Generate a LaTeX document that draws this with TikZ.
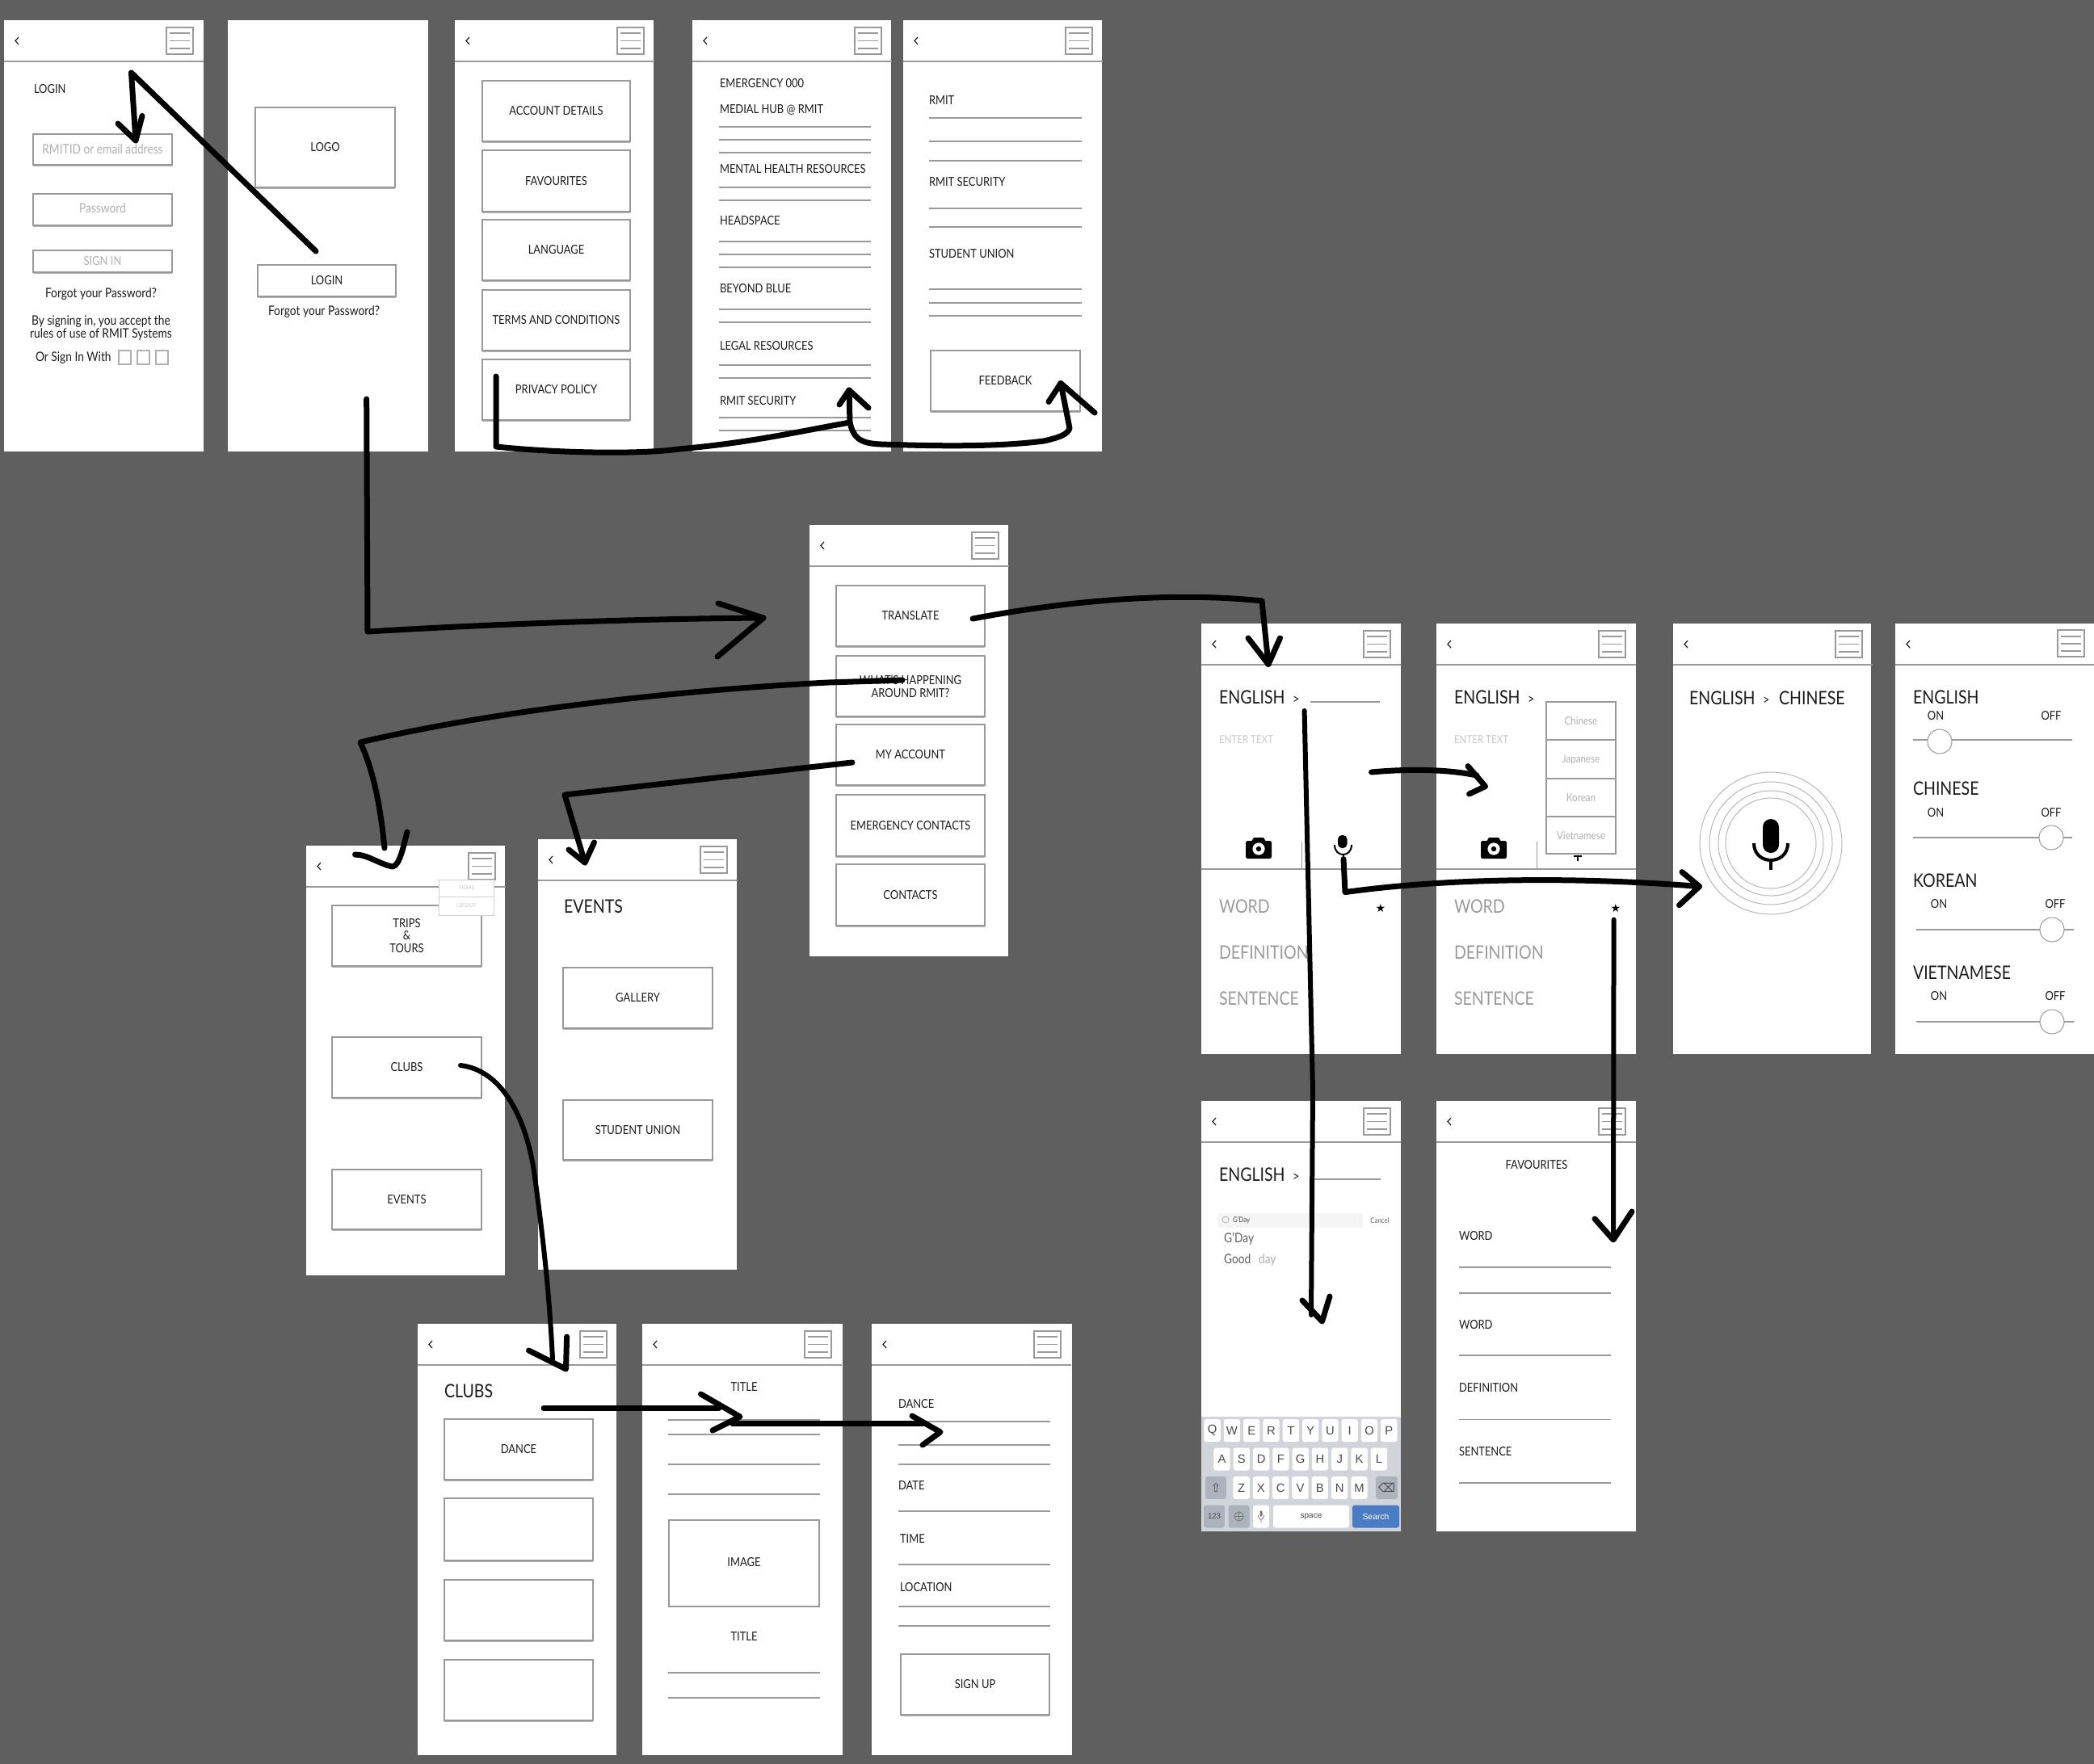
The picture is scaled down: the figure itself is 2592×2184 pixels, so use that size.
\documentclass[tikz,border=0pt]{standalone}
\usepackage{fontspec}
\setmainfont[FakeStretch=0.85]{Lato}
\newfontfamily\kbfont{Liberation Sans}
\newfontfamily\symfont{DejaVu Sans}
\usetikzlibrary{shadows}
\definecolor{bgc}{HTML}{5F5F5F}
\definecolor{ink}{HTML}{1C1C1C}
\definecolor{edge}{HTML}{999999}
\definecolor{lite}{HTML}{B0B0B0}
\definecolor{midg}{HTML}{9A9A9A}
\definecolor{kbbg}{HTML}{D1D5DB}
\definecolor{kbdk}{HTML}{ACB3BC}
\definecolor{kbblue}{HTML}{4A7CC4}
\newcommand{\fa}{\fontsize{7.6}{7.9}\selectfont}
\newcommand{\fb}{\fontsize{11.5}{12}\selectfont}
\newcommand{\fc}{\fontsize{8.1}{7.7}\selectfont}
\newcommand{\fs}{\fontsize{6.8}{7.4}\selectfont}
\newcommand{\gt}{{\fontsize{8.5}{9}\selectfont >}}
\newcounter{tc}
\tikzset{
  scrbox/.style={fill=white,draw=none,inner sep=0,outer sep=0},
  btnbox/.style={fill=white,draw=edge,line width=0.6pt,inner sep=0,outer sep=0,font=\fa,text=ink,align=center,
     drop shadow={shadow xshift=0pt,shadow yshift=-0.9pt,opacity=.3,fill=black}},
  txt/.style={inner sep=0,outer sep=0,font=\fa,text=ink,align=center},
  rule/.style={draw=edge,line width=0.6pt},
  arw/.style={draw=black,line width=3.5pt,line cap=round,line join=round},
  keyb/.style={fill=white,draw=none,rounded corners=1.4pt,inner sep=0,font={\kbfont\fontsize{7.4}{8}\selectfont},text=ink!80},
}
\newcommand{\scrn}[5]{\node[scrbox,minimum width={(#4-#2)*0.5pt},minimum height={(#5-#3)*0.5pt}] (#1) at ({(#2+#4)/2},{(#3+#5)/2}) {};}
\newcommand{\hdr}[2]{%
  \draw[rule,line width=0.8pt] (#1,{#2+51}) -- ({#1+247},{#2+51});
  \draw[ink,line width=0.6pt] ({#1+18},{#2+21}) -- ({#1+14},{#2+25.5}) -- ({#1+18},{#2+30});
  \draw[draw=edge,line width=0.7pt,fill=white] ({#1+201},{#2+9}) rectangle ({#1+234},{#2+42});
  \draw[edge,line width=0.7pt] ({#1+205},{#2+16}) -- ({#1+230},{#2+16}) ({#1+205},{#2+25.5}) -- ({#1+230},{#2+25.5}) ({#1+205},{#2+35}) -- ({#1+230},{#2+35});}
\newcommand{\btn}[6]{\node[btnbox,minimum width={(#4-#2)*0.5pt},minimum height={(#5-#3)*0.5pt}] (#1) at ({(#2+#4)/2},{(#3+#5)/2}) {#6};}
\newcommand{\lb}[4][]{\stepcounter{tc}\node[txt,anchor=west,#1] (t\arabic{tc}) at (#2,#3) {#4};}
\newcommand{\cl}[4][]{\stepcounter{tc}\node[txt,#1] (t\arabic{tc}) at (#2,#3) {#4};}
\newcommand{\hl}[3]{\draw[rule] (#1,#3) -- (#2,#3);}
\newcommand{\kk}[4]{\stepcounter{tc}\node[keyb,minimum width={#3*0.5pt},minimum height={#4*0.5pt}] (t\arabic{tc}) at (#1,#2)}
\begin{document}
\begin{tikzpicture}[x=0.5pt,y=-0.5pt]
\useasboundingbox (0,0) rectangle (2592,2184);
\fill[bgc] (0,0) rectangle (2592,2184);

%% ---------- top row
\scrn{s1}{5}{25}{252}{559}\hdr{5}{25}
\lb{42}{110}{LOGIN}
\btn{i1}{41}{166}{213}{204}{\color{lite}\fc RMITID or email address}
\btn{i2}{41}{240}{213}{279}{\raisebox{1.6pt}{\color{lite}\fc Password}}
\btn{i3}{41}{310}{213}{337}{\color{lite}SIGN IN}
\cl[font=\fc]{125}{364}{Forgot your Password?}
\cl[font=\fc]{125}{406}{By signing in, you accept the\\rules of use of RMIT Systems}
\lb[font=\fc]{44}{443}{Or Sign In With}
\foreach \q in {147,170,193}{\draw[draw=lite,line width=0.6pt] (\q,434) rectangle ({\q+15},451);}

\scrn{s2}{282}{25}{530}{559}
\btn{logo}{316}{133}{489}{232}{LOGO}
\btn{loginb}{319}{328}{490}{367}{LOGIN}
\cl[font=\fc]{401}{386}{Forgot your Password?}

\scrn{s3}{563}{25}{809}{559}\hdr{563}{25}
\btn{acc}{597}{100}{780}{175}{ACCOUNT DETAILS}
\btn{fav}{597}{186}{780}{262}{FAVOURITES}
\btn{lang}{597}{272}{780}{347}{LANGUAGE}
\btn{terms}{597}{359}{780}{434}{TERMS AND CONDITIONS}
\btn{priv}{597}{445}{780}{520}{PRIVACY POLICY}

\scrn{s4}{857}{25}{1103}{559}\hdr{857}{25}
\lb{891}{103}{EMERGENCY 000}
\lb{891}{136}{MEDIAL HUB @ RMIT}
\hl{890}{1078}{157}\hl{890}{1078}{173}\hl{890}{1078}{189}
\lb{891}{209}{MENTAL HEALTH RESOURCES}
\hl{890}{1078}{232}\hl{890}{1078}{248}
\lb{891}{273}{HEADSPACE}
\hl{890}{1078}{299}\hl{890}{1078}{315}\hl{890}{1078}{331}
\lb{891}{357}{BEYOND BLUE}
\hl{890}{1078}{383}\hl{890}{1078}{399}
\lb{891}{428}{LEGAL RESOURCES}
\hl{890}{1078}{452}\hl{890}{1078}{468}
\lb{891}{496}{RMIT SECURITY}
\hl{890}{1078}{517}\hl{890}{1078}{533}

\scrn{s5}{1118}{25}{1364}{559}\hdr{1118}{25}
\lb{1150}{124}{RMIT}
\hl{1150}{1339}{146}\hl{1150}{1339}{175}\hl{1150}{1339}{199}
\lb{1150}{225}{RMIT SECURITY}
\hl{1150}{1339}{258}\hl{1150}{1339}{281}
\lb{1150}{314}{STUDENT UNION}
\hl{1150}{1339}{358}\hl{1150}{1339}{375}\hl{1150}{1339}{391}
\btn{feedb}{1152}{434}{1337}{509}{FEEDBACK}

%% ---------- centre menu
\scrn{s6}{1002}{650}{1248}{1184}\hdr{1002}{650}
\btn{trans}{1035}{725}{1219}{800}{TRANSLATE}
\btn{whats}{1035}{812}{1219}{887}{WHAT'S HAPPENING\\AROUND RMIT?}
\btn{myacc}{1035}{897}{1219}{972}{MY ACCOUNT}
\btn{emerg}{1035}{984}{1219}{1060}{EMERGENCY CONTACTS}
\btn{conta}{1035}{1070}{1219}{1146}{CONTACTS}

%% ---------- trips / events
\scrn{s7}{379}{1047}{625}{1579}\hdr{379}{1047}
\btn{trips}{411}{1121}{596}{1196}{TRIPS\\\&\\TOURS}
\btn{clubs}{411}{1284}{596}{1359}{CLUBS}
\btn{evts}{411}{1448}{596}{1522}{EVENTS}
\draw[draw=lite!60,line width=0.5pt,fill=white] (543,1089) rectangle (611.5,1133);
\draw[lite!60,line width=0.5pt] (543,1110) -- (611.5,1110);
\cl[text=lite!70,font=\fontsize{3.4}{4}\selectfont]{578}{1099.5}{HOME}
\cl[text=lite!70,font=\fontsize{3.4}{4}\selectfont]{577}{1121.5}{LOGOUT}

\scrn{s8}{666}{1039}{912}{1572}\hdr{666}{1039}
\lb[font=\fb]{698}{1122}{EVENTS}
\btn{gall}{697}{1198}{882}{1273}{GALLERY}
\btn{stud}{697}{1362}{882}{1436}{STUDENT UNION}

%% ---------- clubs row
\scrn{s9}{517}{1639}{763}{2173}\hdr{517}{1639}
\lb[font=\fb]{550}{1722}{CLUBS}
\btn{dance}{550}{1757}{734}{1832}{DANCE}
\btn{c2}{550}{1855}{734}{1932}{}
\btn{c3}{550}{1956}{734}{2031}{}
\btn{c4}{550}{2055}{734}{2130}{}

\scrn{s10}{795}{1639}{1043}{2173}\hdr{795}{1639}
\cl{921}{1717}{TITLE}
\hl{827}{1015}{1758}\hl{827}{1015}{1776}\hl{827}{1015}{1813}\hl{827}{1015}{1850}
\node[scrbox,draw=edge,line width=0.6pt,minimum width=93pt,minimum height=53.5pt,font=\fa,text=ink] (img) at (921,1935.5) {\raisebox{2pt}{IMAGE}};
\cl{921}{2026}{TITLE}
\hl{827}{1015}{2071}\hl{827}{1015}{2102}

\scrn{s11}{1079}{1639}{1327}{2173}\hdr{1079}{1639}
\lb{1112}{1738}{DANCE}
\hl{1112}{1300}{1760}\hl{1112}{1300}{1789}\hl{1112}{1300}{1813}
\lb{1112}{1839}{DATE}
\hl{1112}{1300}{1871}
\lb{1114}{1905}{TIME}
\hl{1112}{1300}{1937}
\lb{1114}{1965}{LOCATION}
\hl{1112}{1300}{1989}\hl{1112}{1300}{2013}
\btn{signup}{1115}{2048}{1299}{2123}{SIGN UP}

%% ---------- translate row
\scrn{s12}{1487}{772}{1734}{1305}\hdr{1487}{772}
\scrn{s13}{1778}{772}{2025}{1305}\hdr{1778}{772}
\scrn{s14}{2071}{772}{2316}{1305}\hdr{2071}{772}
\scrn{s15}{2346}{772}{2592}{1305}
\draw[rule,line width=0.8pt] (2346,823) -- (2592,823);
\draw[ink,line width=0.6pt] (2364,793) -- (2360,797.5) -- (2364,802);
\draw[draw=edge,line width=0.7pt,fill=white] (2547,780) rectangle (2580,813);
\draw[edge,line width=0.7pt] (2551,788) -- (2576,788) (2551,797) -- (2576,797) (2551,806) -- (2576,806);

\foreach \dx in {0,291}{
  \lb[font=\fb]{1509+\dx}{863}{ENGLISH\hspace{0.42em}\gt}
  \lb[text=lite!70,font=\fs]{1509+\dx}{916}{ENTER TEXT}
  \lb[font=\fb,text=midg]{1509+\dx}{1122}{WORD}
  \lb[font=\fb,text=midg]{1509+\dx}{1179}{DEFINITION}
  \lb[font=\fb,text=midg]{1509+\dx}{1236}{SENTENCE}
  \cl[font={\symfont\fontsize{7}{8}\selectfont},text=black]{1709+\dx}{1124}{★}
  % camera
  \fill[black,rounded corners=1.2pt] ({1542+\dx},1041) rectangle ({1574+\dx},1063);
  \fill[black] ({1549+\dx},1042) -- ({1552+\dx},1037) -- ({1564+\dx},1037) -- ({1567+\dx},1042) -- cycle;
  \fill[white] ({1558+\dx},1051) circle[radius=3.8pt];
  \fill[black] ({1558+\dx},1051) circle[radius=1.6pt];
  \draw[edge,line width=0.5pt] ({1611+\dx},1042) -- ({1611+\dx},1076);
  \draw[edge,line width=0.6pt] ({1487+\dx},1076) -- ({1734+\dx},1076);
}
\hl{1622}{1708}{869}
% small microphone
\fill[black,rounded corners=2.5pt] (1656,1034) rectangle (1667.5,1050);
\draw[black,line width=1pt] (1652,1046) .. controls (1652,1062) and (1673,1062) .. (1673,1046);
\draw[black,line width=1pt] (1662.5,1057) -- (1662.5,1066);
% dropdown
\draw[draw=edge,line width=0.6pt,fill=white] (1914,869) rectangle (2000,1057);
\draw[edge,line width=0.6pt] (1914,916) -- (2000,916) (1914,964) -- (2000,964) (1914,1011) -- (2000,1011);
\cl[text=lite,font=\fs]{1957}{893}{Chinese}
\cl[text=lite,font=\fs]{1957}{941}{Japanese}
\cl[text=lite,font=\fs]{1957}{988}{Korean}
\cl[text=lite,font=\fs]{1957}{1035}{Vietnamese}
\draw[black,line width=0.8pt] (1948,1060) -- (1958,1060) (1953,1060) -- (1953,1066);

%% third: microphone screen
\lb[font=\fb]{2091}{864}{ENGLISH\hspace{0.42em}\gt\hspace{0.5em}CHINESE}
\foreach \r in {44,38,32.5,28}{\draw[edge!70,line width=0.5pt] (2192,1044) circle[radius=\r pt];}
\fill[black,rounded corners=5pt] (2182,1014) rectangle (2202,1056);
\draw[black,line width=2pt] (2171,1044) .. controls (2171,1072) and (2213,1072) .. (2213,1044);
\draw[black,line width=2pt] (2192,1064) -- (2192,1077);

%% fourth: language toggles
\lb[font=\fb]{2368}{863}{ENGLISH}
\cl{2396}{886}{ON}\cl{2539}{886}{OFF}
\hl{2368}{2565}{916}
\node[circle,draw=edge,line width=0.5pt,fill=white,minimum size=15pt,inner sep=0] (k1) at (2401,918) {};
\lb[font=\fb]{2368}{976}{CHINESE}
\cl{2396}{1006}{ON}\cl{2539}{1006}{OFF}
\hl{2368}{2565}{1037}
\node[circle,draw=edge,line width=0.5pt,fill=white,minimum size=15pt,inner sep=0] (k2) at (2539,1037) {};
\lb[font=\fb]{2368}{1090}{KOREAN}
\cl{2400}{1119}{ON}\cl{2544}{1119}{OFF}
\hl{2372}{2567}{1151}
\node[circle,draw=edge,line width=0.5pt,fill=white,minimum size=15pt,inner sep=0] (k3) at (2540,1151) {};
\lb[font=\fb]{2368}{1204}{VIETNAMESE}
\cl{2400}{1233}{ON}\cl{2544}{1233}{OFF}
\hl{2372}{2567}{1265}
\node[circle,draw=edge,line width=0.5pt,fill=white,minimum size=15pt,inner sep=0] (k4) at (2540,1265) {};

%% ---------- keyboard screen
\scrn{s16}{1487}{1363}{1734}{1896}\hdr{1487}{1363}
\lb[font=\fb]{1509}{1454}{ENGLISH\hspace{0.42em}\gt}
\hl{1627}{1709}{1460}
\fill[black!4] (1508,1502) rectangle (1687,1520);
\draw[lite,line width=0.4pt] (1517,1510) circle[radius=2pt];
\lb[font=\fontsize{4.6}{5}\selectfont,text=ink!80]{1526}{1511}{G'Day}
\cl[font=\fontsize{4.6}{5}\selectfont,text=ink!70]{1708}{1511}{Cancel}
\lb[font=\fc,text=ink!70]{1515}{1534}{G'Day}
\lb[font=\fc,text=ink!70]{1515}{1560}{Good\hspace{0.6em}{\color{lite}day}}
\fill[kbbg] (1487,1754) rectangle (1734,1896);
\foreach \k [count=\i from 0] in {Q,W,E,R,T,Y,U,I,O,P}{
  \kk{1500.6+\i*24.3}{1771}{20.3}{28} {\k};}
\foreach \k [count=\i from 0] in {A,S,D,F,G,H,J,K,L}{
  \kk{1512.5+\i*24.3}{1806.5}{20.3}{28} {\k};}
\foreach \k [count=\i from 0] in {Z,X,C,V,B,N,M}{
  \kk{1536.6+\i*24.3}{1842}{20.3}{28} {\k};}
\kk{1505}{1842}{26}{28} [fill=kbdk] {\symfont ⇧};
\kk{1716.5}{1842}{27}{28} [fill=kbdk] {\symfont ⌫};
\kk{1503}{1877.5}{26}{28} [fill=kbdk,font={\kbfont\fontsize{4.8}{5}\selectfont}] {123};
\kk{1533.5}{1877.5}{26}{28} [fill=kbdk] {};
\draw[ink!60,line width=0.4pt] (1533.5,1877.5) circle[radius=2.8pt] (1528,1877.5) -- (1539,1877.5) (1533.5,1872) -- (1533.5,1883);
\kk{1561}{1877.5}{20}{28} {};
\fill[ink!60,rounded corners=0.8pt] (1559.5,1870) rectangle (1562.5,1878);
\draw[ink!60,line width=0.4pt] (1557.5,1876) .. controls (1557.5,1883) and (1564.5,1883) .. (1564.5,1876) (1561,1881) -- (1561,1885);
\kk{1623}{1877.5}{94}{28} [font={\kbfont\fontsize{5}{6}\selectfont}] {space};
\kk{1703}{1877.5}{58}{28} [fill=kbblue,text=white,font={\kbfont\fontsize{5.2}{6}\selectfont}] {Search};

%% ---------- favourites
\scrn{s17}{1778}{1363}{2025}{1896}\hdr{1778}{1363}
\cl{1902}{1442.5}{FAVOURITES}
\lb{1806}{1530}{WORD}
\hl{1806}{1993.5}{1569}\hl{1806}{1993.5}{1601}
\lb{1806}{1640}{WORD}
\hl{1806}{1993.5}{1678}
\lb{1806}{1718}{DEFINITION}
\hl{1806}{1993.5}{1757.5}
\lb{1806}{1797}{SENTENCE}
\hl{1806}{1993.5}{1836}

%% ---------- hand-drawn arrows
\coordinate (a1s) at (391,311); \coordinate (a1m) at (162.5,90); \coordinate (a1t) at (168,174);
\draw[arw] (a1s) -- (a1m) -- (a1t);
\draw[arw] (146,153) -- (a1t) -- (176,143.5);

\coordinate (a2s) at (453.7,494); \coordinate (a2b) at (455,782); \coordinate (a2t) at (945,765);
\draw[arw] (a2s) -- (a2b) .. controls (620,772) and (800,766) .. (a2t);
\draw[arw] (889,747) -- (a2t) -- (888,813);

\coordinate (a3s) at (614,466); \coordinate (a3b) at (614,553); \coordinate (a3t) at (1051,483);
\draw[arw] (a3s) -- (a3b) .. controls (700,562) and (800,562) .. (840,556) .. controls (930,548) and (990,534) .. (1052,523) -- (a3t);
\draw[arw] (1039,501) -- (a3t) -- (1075,505);
\coordinate (a3u) at (1313,474.5);
\draw[arw] (1052,523) .. controls (1056,540) and (1062,549) .. (1090,550) .. controls (1150,552) and (1230,554) .. (1292,546) .. controls (1310,542) and (1322,538) .. (1324,530) -- (a3u);
\draw[arw] (1298,497.5) -- (a3u) -- (1355,511);

\coordinate (a4s) at (1204,766); \coordinate (a4c) at (1562,744); \coordinate (a4t) at (1570,822.5);
\draw[arw] (a4s) .. controls (1320,744) and (1450,732) .. (a4c) -- (a4t);
\draw[arw] (1545,790) -- (a4t) -- (1584.5,790);

\coordinate (a5s) at (1117,842); \coordinate (a5c) at (446,919); \coordinate (a5t) at (486,1073);
\draw[arw] (a5s) -- (1025,845) .. controls (850,854) and (620,878) .. (a5c) .. controls (465,960) and (472,1010) .. (476,1050);
\draw[arw] (439.5,1058) .. controls (455,1058) and (470,1070) .. (a5t) .. controls (495,1072) and (500,1045) .. (504,1030);

\coordinate (a6s) at (1055,944); \coordinate (a6c) at (699,984); \coordinate (a6t) at (724,1068);
\draw[arw] (a6s) -- (a6c) -- (a6t);
\draw[arw] (704,1052) -- (a6t) -- (735.5,1043);

\coordinate (a7s) at (570,1319); \coordinate (a7t) at (700.5,1695);
\draw[arw,line width=3pt] (a7s) .. controls (620,1325) and (650,1380) .. (661,1450) .. controls (672,1530) and (680,1600) .. (684,1683);
\draw[arw] (654.5,1672) -- (a7t) -- (701.6,1655);

\coordinate (a8s) at (673,1743); \coordinate (a8t) at (916,1754);
\draw[arw] (a8s) -- (890,1743);
\draw[arw] (867.5,1726) -- (a8t) -- (882,1771);
\coordinate (a9s) at (906.5,1762.5); \coordinate (a9t) at (1164,1773);
\draw[arw] (a9s) -- (1142,1762.5);
\draw[arw] (1129,1753) -- (a9t) -- (1142,1789);

\coordinate (a10s) at (1614.6,880); \coordinate (a10t) at (1636.5,1636);
\draw[arw,line width=3pt] (a10s) -- (1625,1350) -- (1623,1628);
\draw[arw] (1612,1610) -- (a10t) -- (1646,1605);

\coordinate (a11s) at (1697.6,956); \coordinate (a11t) at (1838.6,973.6);
\draw[arw] (a11s) .. controls (1740,952) and (1790,952) .. (1828,960);
\draw[arw] (1817,948.6) -- (a11t) -- (1818.6,983);

\coordinate (a12s) at (1663,1063.6); \coordinate (a12b) at (1665,1104.6); \coordinate (a12t) at (2103.5,1097.5);
\draw[arw] (a12s) -- (a12b) .. controls (1800,1086) and (1960,1086) .. (a12t);
\draw[arw] (2082,1079.6) -- (a12t) -- (2078.5,1120.7);

\coordinate (a13s) at (1997.6,1138.6); \coordinate (a13t) at (1997,1535);
\draw[arw,line width=3pt] (a13s) -- (a13t);
\draw[arw] (1974,1509) -- (a13t) -- (2020,1500);
\end{tikzpicture}
\end{document}
